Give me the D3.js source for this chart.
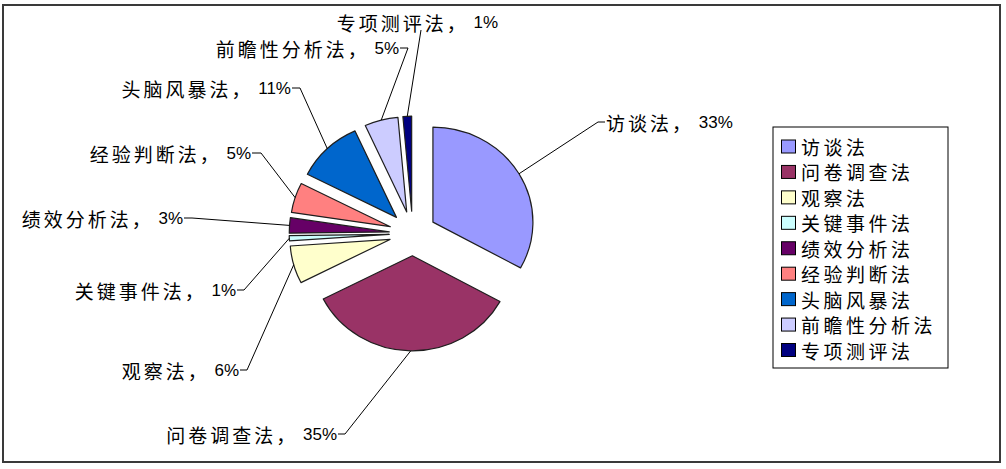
<!DOCTYPE html>
<html>
<head>
<meta charset="utf-8">
<script src="https://cdn.jsdelivr.net/npm/d3@7"></script>
<style>
  html, body { margin: 0; padding: 0; background: #fff; }
  svg { display: block; }
</style>
</head>
<body>
<svg id="chart" width="1006" height="469"></svg>
<script>
// ---- data ----
const categories = ["访谈法", "问卷调查法", "观察法", "关键事件法", "绩效分析法", "经验判断法", "头脑风暴法", "前瞻性分析法", "专项测评法"];
const values = [33.0, 34.5, 6.4, 0.9, 2.6, 5.1, 10.7, 5.4, 1.4];
const colors = ["#9999FF", "#993366", "#FFFFCC", "#CCFFFF", "#660066", "#FF8080", "#0066CC", "#CCCCFF", "#000080"];

// ---- layout (label placement, leader elbows) ----
const labelLayout = [
  { x: 606, y: 122, anchor: "start", elbow: [598, 122] },
  { x: 337, y: 434, anchor: "end", elbow: [345, 434] },
  { x: 239, y: 370, anchor: "end", elbow: [247, 370] },
  { x: 236, y: 290, anchor: "end", elbow: [244, 290] },
  { x: 183, y: 218, anchor: "end", elbow: [192, 218] },
  { x: 251, y: 153, anchor: "end", elbow: [261, 153] },
  { x: 291, y: 88, anchor: "end", elbow: [300, 88] },
  { x: 399, y: 48, anchor: "end", elbow: [408, 48] },
  { x: 498, y: 22, anchor: "end", elbow: [421, 30], direct: true }
];

const W = 1006, H = 469;
const cx = 412.7, cy = 233.5, R = 100, ky = 0.95, explode = 23.5;

const svg = d3.select("#chart");
const cnFont = "'Noto Sans CJK SC', 'Noto Sans', sans-serif";

// outer frame
svg.append("rect")
  .attr("x", 3).attr("y", 5).attr("width", 997).attr("height", 457)
  .attr("fill", "#fff").attr("stroke", "#3a3a3a").attr("stroke-width", 2);

const total = d3.sum(values);
const pie = d3.pie().sort(null).value(d => d)(values);
const arc = d3.arc().innerRadius(0).outerRadius(R);

const pieG = svg.append("g").attr("transform", `translate(${cx},${cy}) scale(1,${ky})`);

pieG.selectAll("path.slice")
  .data(pie)
  .join("path")
  .attr("class", "slice")
  .attr("d", arc)
  .attr("transform", d => {
    const a = (d.startAngle + d.endAngle) / 2;
    return `translate(${explode * Math.sin(a)},${-explode * Math.cos(a)})`;
  })
  .attr("fill", (d, i) => colors[i])
  .attr("stroke", "#1e1e1e")
  .attr("stroke-width", 1.2)
  .attr("vector-effect", "non-scaling-stroke")
  .attr("stroke-linejoin", "round");

// leader lines + labels
const line = d3.line();
pie.forEach((d, i) => {
  const a = (d.startAngle + d.endAngle) / 2;
  const rr = explode + R;
  const sx = cx + rr * Math.sin(a);
  const sy = cy - ky * rr * Math.cos(a);
  const L = labelLayout[i];
  let pts;
  if (L.direct) {
    pts = [[sx, sy], L.elbow];
  } else {
    const endX = L.anchor === "end" ? L.x + 1 : L.x - 1;
    pts = [[sx, sy], L.elbow, [endX, L.y]];
  }
  svg.append("path")
    .attr("d", line(pts))
    .attr("fill", "none")
    .attr("stroke", "#000")
    .attr("stroke-width", 1);

  const t = svg.append("text")
    .attr("x", L.x).attr("y", L.y)
    .attr("text-anchor", L.anchor)
    .attr("dominant-baseline", "central")
    .attr("fill", "#000");
  t.append("tspan")
    .attr("font-family", cnFont)
    .attr("font-size", 19)
    .attr("letter-spacing", 3)
    .text(categories[i] + "，");
  t.append("tspan")
    .attr("font-family", "'Liberation Sans', Arial, sans-serif")
    .attr("font-size", 17)
    .text(" " + Math.round(d.value / total * 100) + "%");
});

// legend
const lg = svg.append("g");
lg.append("rect")
  .attr("x", 773).attr("y", 127).attr("width", 175).attr("height", 241)
  .attr("fill", "#fff").attr("stroke", "#000").attr("stroke-width", 1);

const rowY = d3.scaleLinear().domain([0, categories.length - 1]).range([146.5, 350]);
categories.forEach((c, i) => {
  lg.append("rect")
    .attr("x", 781.5).attr("y", rowY(i) - 6.5).attr("width", 14).attr("height", 13)
    .attr("fill", colors[i]).attr("stroke", "#000").attr("stroke-width", 1);
  lg.append("text")
    .attr("x", 801).attr("y", rowY(i))
    .attr("dominant-baseline", "central")
    .attr("font-family", cnFont)
    .attr("font-size", 19)
    .attr("letter-spacing", 3.5)
    .attr("fill", "#000")
    .text(c);
});
</script>
</body>
</html>
